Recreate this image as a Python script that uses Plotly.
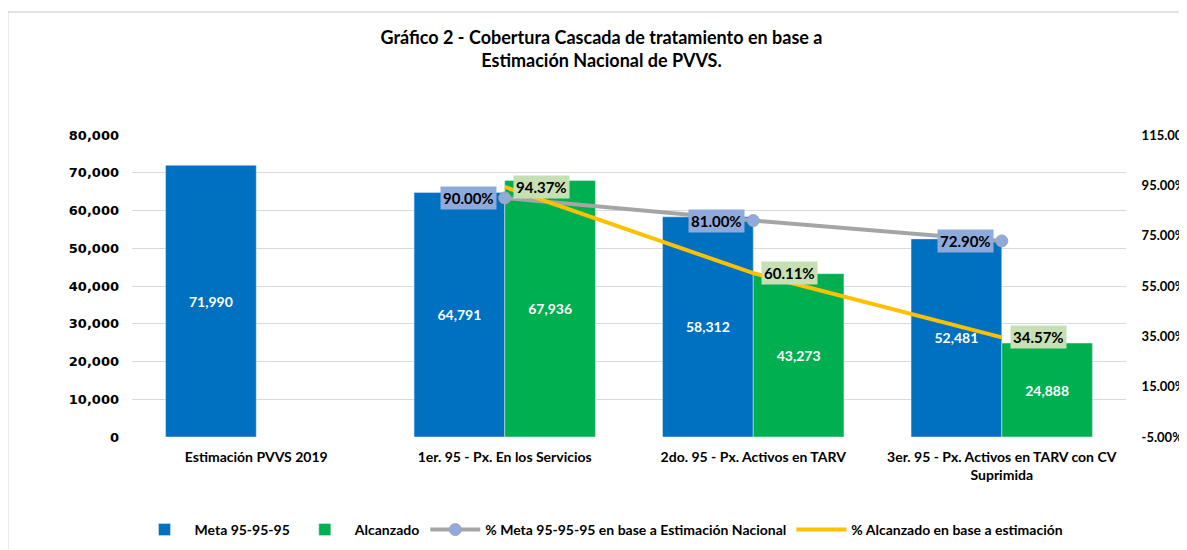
import plotly.graph_objects as go

FONT = "Lato, 'Open Sans', sans-serif"
AXIS_FONT = "'DejaVu Sans', Verdana, sans-serif"
TEXT = "#000000"
GRID = "#D9D9D9"
BLUE = "#0070C0"
GREEN = "#00B050"
GRAY = "#A5A5A5"
MARKER = "#8FAADC"
YELLOW = "#FFC000"

categories = [
    "Estimación PVVS 2019",
    "1er. 95 - Px. En los Servicios",
    "2do. 95 - Px. Activos en TARV",
    "3er. 95 - Px. Activos en TARV con CV<br>Suprimida",
]
meta = [71990, 64791, 58312, 52481]
alcanzado = [None, 67936, 43273, 24888]
pct_meta = [None, 0.90, 0.81, 0.729]
pct_alcanzado = [None, 0.9437, 0.6011, 0.3457]

left_ticks = list(range(0, 80001, 10000))
right_ticks = [-0.05, 0.15, 0.35, 0.55, 0.75, 0.95, 1.15]
right_labels = [f"{v * 100:.2f}%" for v in right_ticks]

fig = go.Figure()
fig.add_trace(go.Bar(
    x=categories, y=meta, name="Meta 95-95-95", marker_color=BLUE,
    texttemplate="%{y:,}", textposition="inside", insidetextanchor="middle",
    textfont=dict(color="white", size=14, family=FONT), textangle=0,
))
fig.add_trace(go.Bar(
    x=categories, y=alcanzado, name="Alcanzado", marker_color=GREEN,
    texttemplate="%{y:,}", textposition="inside", insidetextanchor="middle",
    textfont=dict(color="white", size=14, family=FONT), textangle=0,
))
fig.add_trace(go.Scatter(
    x=categories, y=pct_meta, yaxis="y2", mode="lines+markers",
    name="% Meta 95-95-95 en base a Estimación Nacional",
    line=dict(color=GRAY, width=4),
    marker=dict(color=MARKER, size=12, line=dict(color=GRAY, width=1)),
))
fig.add_trace(go.Scatter(
    x=categories, y=pct_alcanzado, yaxis="y2", mode="lines",
    name="% Alcanzado en base a estimación",
    line=dict(color=YELLOW, width=4),
))

# percentage labels with boxed backgrounds
for c, v in zip(categories, pct_meta):
    if v is None:
        continue
    fig.add_annotation(
        x=c, y=v, xref="x", yref="y2", text=f"{v * 100:.2f}%",
        showarrow=False, xanchor="right", xshift=-8, bgcolor="#8EA9DB",
        font=dict(size=15, color=TEXT, family=FONT), borderpad=2,
    )
for c, v in zip(categories, pct_alcanzado):
    if v is None:
        continue
    fig.add_annotation(
        x=c, y=v, xref="x", yref="y2", text=f"{v * 100:.2f}%",
        showarrow=False, xanchor="left", xshift=8, bgcolor="#C6E0B4",
        font=dict(size=15, color=TEXT, family=FONT), borderpad=2,
    )

# outer chart border
fig.add_shape(
    type="rect", xref="paper", yref="paper",
    x0=-0.125, x1=1.2, y0=-0.5, y1=1.407,
    line=dict(color="#D9D9D9", width=1.5), fillcolor="rgba(0,0,0,0)",
)

fig.update_layout(
    width=1187, height=550,
    paper_bgcolor="white", plot_bgcolor="white",
    font=dict(family=FONT, size=14, color=TEXT, weight="bold"),
    margin=dict(l=124, r=69, t=127, b=121, autoexpand=False),
    barmode="group", bargap=0.27, bargroupgap=0,
    title=dict(
        text="Gráfico 2 - Cobertura Cascada de tratamiento en base a<br>Estimación Nacional de PVVS.",
        x=0.5, xanchor="center", y=0.935, yanchor="top",
        font=dict(size=18, color=TEXT, family=FONT, weight="bold"),
    ),
    xaxis=dict(showgrid=False, showline=False, ticks="", automargin=False,
               ticklabelstandoff=10, tickfont=dict(size=14, weight="bold")),
    yaxis=dict(range=[0, 80000], tickvals=left_ticks, tickformat=",",
               gridcolor=GRID, zeroline=False, showline=False, automargin=False,
               ticklabelstandoff=12,
               tickfont=dict(size=13, weight="bold", family=AXIS_FONT)),
    yaxis2=dict(range=[-0.05, 1.15], tickvals=right_ticks, ticktext=right_labels,
                overlaying="y", side="right", showgrid=False, zeroline=False,
                showline=False, automargin=False,
                ticks="outside", ticklen=12, tickcolor="rgba(0,0,0,0)",
                tickfont=dict(size=13, weight="bold")),
    legend=dict(orientation="h", x=0.5, xanchor="center", xref="container",
                y=0.051, yanchor="middle", yref="container",
                font=dict(size=14, weight="bold"), itemwidth=50,
                traceorder="normal"),
    showlegend=True,
)

fig.write_html("out.html")
